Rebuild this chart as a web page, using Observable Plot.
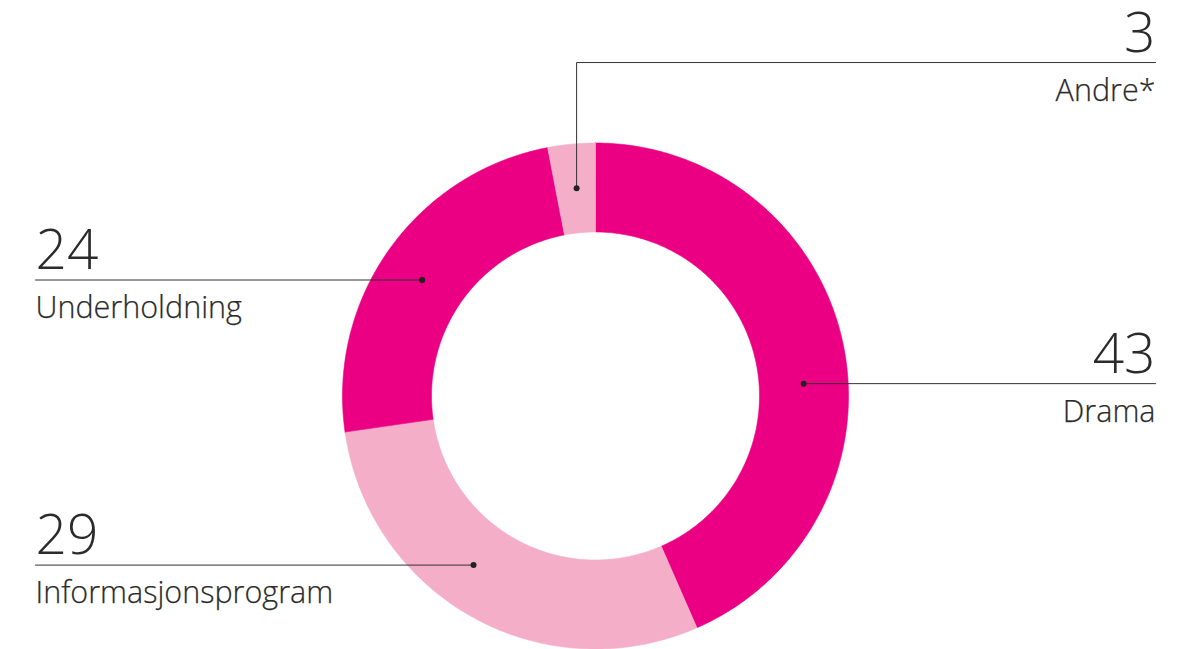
<!DOCTYPE html>
<html>
<head>
<meta charset="utf-8">
<script src="https://cdn.jsdelivr.net/npm/d3@7"></script>
<script src="https://cdn.jsdelivr.net/npm/@observablehq/plot@0.6"></script>
<style>
  html, body { margin: 0; padding: 0; background: #fff; }
  #chart svg { display: block; }
</style>
</head>
<body>
<div id="chart"></div>
<script>
// ---- data ----
const categories = ["Drama", "Informasjonsprogram", "Underholdning", "Andre*"];
const values = [43, 29, 24, 3];
const valueLabels = ["43", "29", "24", "3"];

// ---- style / layout ----
const colors = ["#EB0083", "#F4AEC7", "#EB0083", "#F4AEC7"];
const labelSide = ["right", "left", "left", "right"];
const leaderAngleDeg = [86.6, 215.8, 303.8, 354.8]; // where the leader dot sits on the ring
const elbowY = [null, null, null, 1.318];           // Andre leader goes up first
const W = 1189, H = 649;
const cx = 595, cy = 395.5, R = 253, rInner = 164 / 253; // outer radius = 1 unit
const labelX = 560 / 253;
const textColor = "#2b2b2b";
const font = "'Open Sans', 'Noto Sans', sans-serif";

const rows = categories.map((c, i) => ({
  category: c, value: values[i], label: valueLabels[i], color: colors[i],
  side: labelSide[i], angle: leaderAngleDeg[i] * Math.PI / 180, elbow: elbowY[i]
}));

const pie = d3.pie().sort(null).value(d => d.value).startAngle(0).endAngle(2 * Math.PI);
const arcs = pie(rows);

function polar(r, a) { return {x: r * Math.sin(a), y: r * Math.cos(a)}; }

const sliceMarks = arcs.map(a => {
  const n = Math.max(8, Math.ceil((a.endAngle - a.startAngle) * 80));
  const pts = [];
  for (let k = 0; k <= n; k++) pts.push(polar(1, a.startAngle + (a.endAngle - a.startAngle) * k / n));
  for (let k = n; k >= 0; k--) pts.push(polar(rInner, a.startAngle + (a.endAngle - a.startAngle) * k / n));
  pts.push(pts[0]);
  return Plot.line(pts, {x: "x", y: "y", fill: a.data.color, stroke: a.data.color, strokeWidth: 0.6, curve: "linear"});
});

const rm = (1 + rInner) / 2;
const leaders = rows.map(d => {
  const p = polar(rm, d.angle);
  const endX = d.side === "right" ? labelX : -labelX;
  const lineY = d.elbow != null ? d.elbow : p.y;
  const path = d.elbow != null
    ? [p, {x: p.x, y: d.elbow}, {x: endX, y: d.elbow}]
    : [p, {x: endX, y: p.y}];
  return {...d, dot: p, path, endX, lineY};
});

const textMarks = [];
for (const side of ["right", "left"]) {
  const sub = leaders.filter(l => l.side === side);
  const anchor = side === "right" ? "end" : "start";
  textMarks.push(Plot.text(sub, {x: "endX", y: "lineY", text: "label", textAnchor: anchor,
    lineAnchor: "bottom", dy: -11, fontSize: 55, fontWeight: 300, fill: textColor, fontFamily: font}));
  textMarks.push(Plot.text(sub, {x: "endX", y: "lineY", text: "category", textAnchor: anchor,
    lineAnchor: "bottom", dy: 38, fontSize: 30.5, fontWeight: 300, fill: textColor, fontFamily: font,
    stroke: textColor, strokeWidth: 0.25}));
}

const chart = Plot.plot({
  width: W, height: H,
  margin: 0,
  x: {domain: [-cx / R, (W - cx) / R], axis: null},
  y: {domain: [(cy - H) / R, cy / R], axis: null},
  style: {background: "#fff", fontFamily: font, overflow: "visible"},
  marks: [
    ...sliceMarks,
    ...leaders.map(l => Plot.line(l.path, {x: "x", y: "y", stroke: "#333", strokeWidth: 1, curve: "linear"})),
    Plot.dot(leaders, {x: d => d.dot.x, y: d => d.dot.y, r: 3, fill: "#222", stroke: "none"}),
    ...textMarks
  ]
});
document.getElementById("chart").appendChild(chart);
</script>
</body>
</html>
